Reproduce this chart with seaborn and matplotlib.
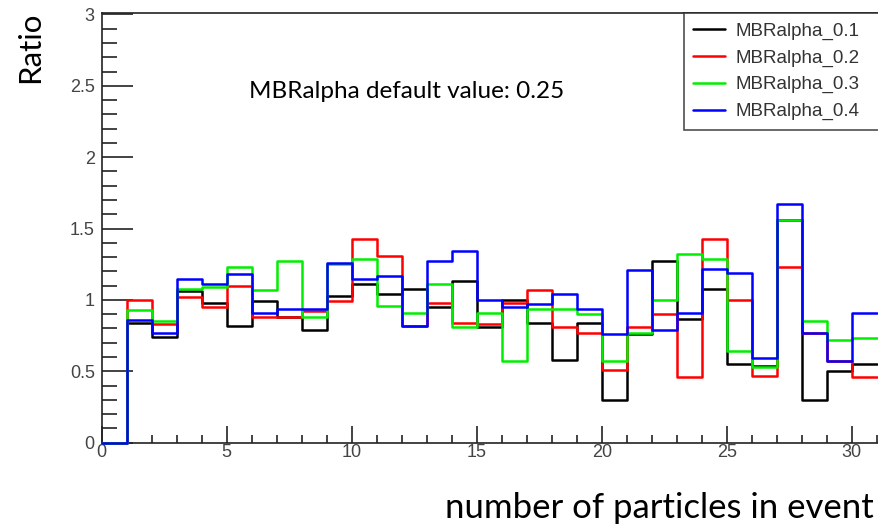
import numpy as np
import pandas as pd
import matplotlib
matplotlib.use("Agg")
import matplotlib.pyplot as plt
from matplotlib.ticker import MultipleLocator
from matplotlib.lines import Line2D
import seaborn as sns

sns.set_theme(style="white")
plt.rcParams['font.family'] = ['Liberation Sans', 'DejaVu Sans']

# Ratio por bin (bins de ancho 1, de 0 a 31)
ratio_01 = [0, 0.84, 0.74, 1.06, 0.98, 0.82, 0.99, 0.88, 0.79, 1.03, 1.11, 1.04, 1.08, 0.95, 1.13,
            0.81, 1.00, 0.84, 0.58, 0.84, 0.30, 0.76, 1.27, 0.87, 1.08, 0.55, 0.54, 1.56, 0.30, 0.50, 0.55]
ratio_02 = [0, 1.00, 0.83, 1.02, 0.95, 1.10, 0.88, 0.88, 0.92, 0.99, 1.43, 1.31, 0.82, 0.98, 0.84,
            0.83, 0.98, 1.07, 0.81, 0.77, 0.51, 0.81, 0.90, 0.46, 1.43, 1.00, 0.47, 1.23, 0.77, 0.57, 0.46]
ratio_03 = [0, 0.93, 0.85, 1.08, 1.09, 1.23, 1.07, 1.27, 0.88, 1.25, 1.29, 0.96, 0.91, 1.11, 0.81,
            0.91, 0.57, 0.94, 0.94, 0.90, 0.57, 0.77, 1.00, 1.32, 1.29, 0.64, 0.53, 1.56, 0.85, 0.72, 0.73]
ratio_04 = [0, 0.86, 0.77, 1.15, 1.11, 1.18, 0.91, 0.94, 0.94, 1.26, 1.15, 1.17, 0.82, 1.27, 1.34,
            1.00, 0.95, 0.97, 1.04, 0.94, 0.76, 1.21, 0.79, 0.91, 1.22, 1.19, 0.59, 1.67, 0.77, 0.57, 0.91]

series = {
    'MBRalpha_0.1': (ratio_01, 'black'),
    'MBRalpha_0.2': (ratio_02, '#ff0000'),
    'MBRalpha_0.3': (ratio_03, '#00ee00'),
    'MBRalpha_0.4': (ratio_04, '#0000ff'),
}

centros = np.arange(len(ratio_01)) + 0.5

fig = plt.figure(figsize=(8.79, 5.27), dpi=100)
ax = fig.add_axes([101.7 / 879, 84.3 / 527, (879 - 101.7) / 879, (442.7 - 13) / 527])

handles = []
for nombre, (valores, color) in series.items():
    df = pd.DataFrame({'n': centros, 'ratio': valores})
    sns.histplot(data=df, x='n', weights='ratio', binwidth=1, binrange=(0, len(valores)),
                 element='step', fill=False, color=color, linewidth=1.8, zorder=3,
                 clip_on=False, ax=ax)
    handles.append(Line2D([], [], color=color, linewidth=1.8, label=nombre))

ax.set_xlim(0, (879 - 101.7) / 25)
ax.set_ylim(0, 3.01)
ax.set_xlabel('')
ax.set_ylabel('')

ax.xaxis.set_major_locator(MultipleLocator(5))
ax.xaxis.set_minor_locator(MultipleLocator(1))
ax.yaxis.set_minor_locator(MultipleLocator(0.1))
ax.set_yticks([0, 0.5, 1, 1.5, 2, 2.5, 3])
ax.set_yticklabels(['0', '0.5', '1', '1.5', '2', '2.5', '3'])
ax.tick_params(which='both', direction='in', colors='#222222', labelcolor='#444444',
               labelsize=13, width=1.2)
ax.tick_params(axis='y', which='major', length=22, pad=5)
ax.tick_params(axis='y', which='minor', length=11)
ax.tick_params(axis='x', which='major', length=12, pad=1)
ax.tick_params(axis='x', which='minor', length=6)
ax.tick_params(left=True, bottom=True, which='both')

for lado in ['left', 'bottom', 'top']:
    ax.spines[lado].set_color('#222222')
    ax.spines[lado].set_linewidth(1.2)
ax.spines['right'].set_visible(False)

leg = ax.legend(handles=handles, loc='upper left', bbox_to_anchor=(0.749, 0.75, 0.30, 0.25),
                mode='expand', fontsize=13.5, frameon=True, fancybox=False, edgecolor='#222222',
                handlelength=1.7, handletextpad=0.55, labelspacing=0.51, borderpad=0.5,
                borderaxespad=0)
leg.get_frame().set_linewidth(1.2)
for t in leg.get_texts():
    t.set_color('#333333')

fig.text(407 / 879, 1 - 92 / 527, 'MBRalpha default value: 0.25', family=['Lato', 'DejaVu Sans'],
         fontsize=17.5, ha='center', va='center', color='black')
fig.text(30 / 879, 1 - 47 / 527, 'Ratio', family=['Lato', 'DejaVu Sans'], fontsize=22.5,
         rotation=90, ha='center', va='center', color='black')
fig.text(874 / 879, 1 - 508 / 527, 'number of particles in event', family=['Lato', 'DejaVu Sans'],
         fontsize=25, ha='right', va='center', color='black')

fig.savefig('out.png', dpi=100)
